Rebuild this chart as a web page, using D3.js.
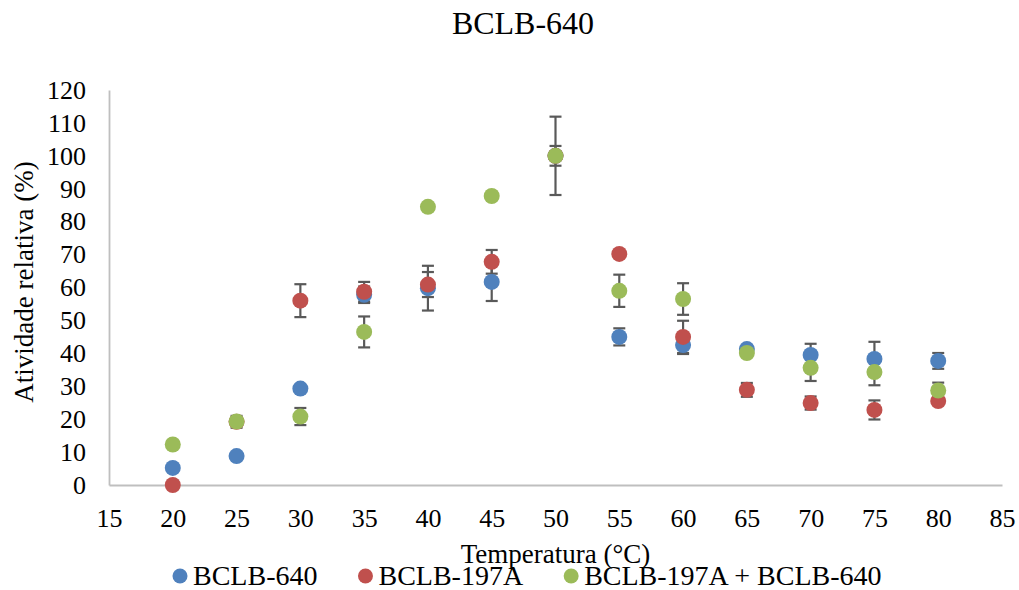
<!DOCTYPE html>
<html>
<head>
<meta charset="utf-8">
<script src="https://cdn.jsdelivr.net/npm/d3@7"></script>
<style>
  body { margin: 0; background: #fff; }
  svg text { font-family: "Liberation Serif" !important; font-weight: normal; }
</style>
</head>
<body>
<div id="chart"></div>
<script>
const WIDTH = 1019;
const HEIGHT = 590;
const FONT = "Liberation Serif";

// temperature (°C) and relative activity (%) with error bars
const temps = [20, 25, 30, 35, 40, 45, 50, 55, 60, 65, 70, 75, 80];
const bclb640 = [5.2, 8.8, 29.3, 57.8, 59.8, 61.7, 100, 45.0, 42.5, 41.3, 39.5, 38.3, 37.7];
const bclb640Err = [0, 0, 0, 2.5, 6.8, 5.8, 3, 2.6, 2.7, 0, 3.4, 5.2, 2.4];
const bclb197 = [0, 19.2, 56.0, 58.7, 60.9, 67.8, 100, 70.2, 45.0, 28.9, 24.9, 22.8, 25.5];
const bclb197Err = [0, 1.8, 5.0, 3.0, 3.8, 3.6, 0, 0, 4.9, 2.1, 2.0, 2.9, 0];
const mix = [12.3, 19.3, 20.8, 46.5, 84.5, 87.8, 100, 59.0, 56.5, 40.1, 35.6, 34.3, 28.7];
const mixErr = [0, 0, 2.6, 4.7, 0, 0, 11.9, 4.9, 4.8, 0, 4.0, 4.0, 2.4];

const seriesNames = ["BCLB-640", "BCLB-197A", "BCLB-197A + BCLB-640"];
const seriesColors = ["#4f81bd", "#c0504d", "#9bbb59"];
const xTicks = [15, 20, 25, 30, 35, 40, 45, 50, 55, 60, 65, 70, 75, 80, 85];
const yTicks = [0, 10, 20, 30, 40, 50, 60, 70, 80, 90, 100, 110, 120];

const series = [
  { name: seriesNames[0], color: seriesColors[0], values: bclb640, errs: bclb640Err },
  { name: seriesNames[1], color: seriesColors[1], values: bclb197, errs: bclb197Err },
  { name: seriesNames[2], color: seriesColors[2], values: mix, errs: mixErr }
];

const x = d3.scaleLinear().domain([15, 85]).range([109, 1002]);
const y = d3.scaleLinear().domain([0, 120]).range([485, 90]);

const svg = d3.select("#chart").append("svg")
  .attr("width", WIDTH).attr("height", HEIGHT)
  .attr("font-family", FONT);

// axes
const xAxis = svg.append("g")
  .attr("transform", `translate(0,${y(0)})`)
  .call(d3.axisBottom(x).tickValues(xTicks).tickSize(0).tickPadding(23.5).tickFormat(d3.format("d")));
const yAxis = svg.append("g")
  .attr("transform", `translate(${x(15)},0)`)
  .call(d3.axisLeft(y).tickValues(yTicks).tickSize(0).tickPadding(23).tickFormat(d3.format("d")));

[xAxis, yAxis].forEach(axis => {
  axis.attr("font-family", FONT).attr("font-size", 26);
  axis.select(".domain").attr("stroke", "#bfbfbf").attr("stroke-width", 1.8);
  axis.selectAll(".tick text")
    .attr("font-size", 26).attr("fill", "#000");
});

// error bars first, markers on top
const CAP = 6;
series.forEach(s => {
  const bars = temps.map((t, i) => ({ t, v: s.values[i], e: s.errs[i] })).filter(d => d.e > 0);
  const g = svg.append("g").attr("stroke", "#595959").attr("stroke-width", 2.2);
  bars.forEach(d => {
    g.append("line")
      .attr("x1", x(d.t)).attr("x2", x(d.t))
      .attr("y1", y(d.v + d.e)).attr("y2", y(d.v - d.e));
    [d.v + d.e, d.v - d.e].forEach(v => {
      g.append("line")
        .attr("x1", x(d.t) - CAP).attr("x2", x(d.t) + CAP)
        .attr("y1", y(v)).attr("y2", y(v));
    });
  });
});

series.forEach(s => {
  svg.append("g").selectAll("circle")
    .data(temps.map((t, i) => ({ t, v: s.values[i] })))
    .enter().append("circle")
    .attr("cx", d => x(d.t))
    .attr("cy", d => y(d.v))
    .attr("r", 8)
    .attr("fill", s.color);
});

// titles
svg.append("text")
  .attr("x", 523).attr("y", 34)
  .attr("text-anchor", "middle")
  .attr("font-size", 32)
  .text("BCLB-640");

svg.append("text")
  .attr("x", (x(15) + x(85)) / 2).attr("y", 563)
  .attr("text-anchor", "middle")
  .attr("font-size", 27)
  .text("Temperatura (°C)");

svg.append("text")
  .attr("transform", "translate(33,282) rotate(-90)")
  .attr("text-anchor", "middle")
  .attr("font-size", 27)
  .text("Atividade relativa (%)");

// legend
const legend = svg.append("g");
let lx = 180;
series.forEach(s => {
  legend.append("circle")
    .attr("cx", lx).attr("cy", 576).attr("r", 7.5)
    .attr("fill", s.color);
  const t = legend.append("text")
    .attr("x", lx + 13).attr("y", 585)
    .attr("font-size", 28)
    .text(s.name);
  lx += 13 + t.node().getComputedTextLength() + 48;
});
</script>
</body>
</html>
